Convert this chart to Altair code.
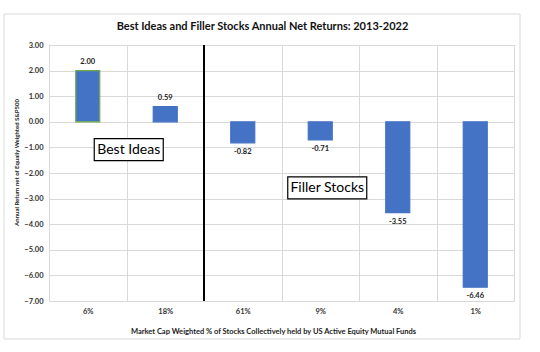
import altair as alt
import pandas as pd

categories = ["6%", "18%", "61%", "9%", "4%", "1%"]
returns = [2.00, 0.59, -0.82, -0.71, -3.55, -6.46]
bar_stroke = ["#70AD47", "#4472C4", "#4472C4", "#4472C4", "#4472C4", "#4472C4"]

box_labels = ["Best Ideas", "Filler Stocks"]
box_cats = ["6%", "9%"]
box_vals = [-1.09, -2.58]

divider_cat = ["61%"]
y_ticks = [3, 2, 1, 0, -1, -2, -3, -4, -5, -6, -7]

FONT = "Lato"
W, H = 465, 256

df = pd.DataFrame({"cat": categories, "ret": returns, "stroke": bar_stroke})
df["lab"] = [f"{v:.2f}" for v in returns]

xscale = alt.Scale(domain=categories, paddingInner=0, paddingOuter=0)
yscale = alt.Scale(domain=[-7, 3], nice=False)

xaxis = alt.Axis(labelAngle=0, tickBand="extent", grid=True, ticks=False, domain=False,
                 gridColor="#d9d9d9", labelPadding=6, labelFontSize=7.5, labelFontWeight="bold",
                 labelColor="#333333", labelFont=FONT, titleFont=FONT, titleFontSize=7.5,
                 titleFontWeight="bold", titleColor="#222222", titlePadding=13, titleX=224)
yaxis = alt.Axis(values=y_ticks, format=".2f", grid=True, ticks=False, domain=False,
                 labelOverlap=False, gridColor="#d9d9d9", labelPadding=6, labelFontSize=7.5,
                 labelFontWeight="bold", labelColor="#333333", labelFont=FONT,
                 titleFont=FONT, titleFontSize=6, titleFontWeight="bold", titleColor="#222222",
                 titleX=-33, titleY=117, titleAlign="center", titleBaseline="middle",
                 titleAngle=270)

XT = "Market Cap Weighted % of Stocks Collectively held by US Active Equity Mutual Funds"
YT = "Annual Return net of Equally Weighted S&P500"
xenc = alt.X("cat:N", scale=xscale, sort=categories, title=XT, axis=xaxis)
yenc = alt.Y("ret:Q", scale=yscale, title=YT, axis=yaxis)

base = alt.Chart(df)

bars = base.mark_bar(size=24, color="#4472C4", strokeWidth=1.2).encode(
    x=xenc, y=yenc, y2=alt.datum(0),
    stroke=alt.Stroke("stroke:N", scale=None),
)

pos_lab = base.transform_filter("datum.ret >= 0").mark_text(
    baseline="bottom", dy=-5, fontSize=7.5, fontWeight="bold", font=FONT, color="#222222"
).encode(x=xenc, y=yenc, text="lab:N")

neg_lab = base.transform_filter("datum.ret < 0").mark_text(
    baseline="top", dy=5, fontSize=7.5, fontWeight="bold", font=FONT, color="#222222"
).encode(x=xenc, y=yenc, text="lab:N")

rule = alt.Chart(pd.DataFrame({"cat": divider_cat, "ret": [3], "ret2": [-7]})).mark_rule(
    color="black", strokeWidth=2
).encode(
    x=alt.X("cat:N", scale=xscale, sort=categories, title=XT, axis=xaxis, bandPosition=0),
    y=yenc, y2="ret2:Q",
)

bdf = pd.DataFrame({"cat": box_cats, "ret": box_vals, "lab": box_labels})
box1 = alt.Chart(bdf.iloc[[0]]).mark_point(
    shape="M-1,-0.319L1,-0.319L1,0.319L-1,0.319Z", size=69 ** 2, filled=True, fill="white",
    stroke="black", strokeWidth=1.2, opacity=1, xOffset=41
).encode(x=xenc, y=yenc)
box2 = alt.Chart(bdf.iloc[[1]]).mark_point(
    shape="M-1,-0.278L1,-0.278L1,0.278L-1,0.278Z", size=79 ** 2, filled=True, fill="white",
    stroke="black", strokeWidth=1.2, opacity=1, xOffset=7
).encode(x=xenc, y=yenc)
txt1 = alt.Chart(bdf.iloc[[0]]).mark_text(fontSize=14, font=FONT, color="black", xOffset=41).encode(
    x=xenc, y=yenc, text="lab:N")
txt2 = alt.Chart(bdf.iloc[[1]]).mark_text(fontSize=14, font=FONT, color="black", xOffset=7).encode(
    x=xenc, y=yenc, text="lab:N")

frame = alt.Chart(pd.DataFrame({"a": [0]})).mark_rect(
    fill=None, stroke="#d9d9d9", strokeWidth=1, clip=False
).encode(x=alt.value(-45), x2=alt.value(471), y=alt.value(-31), y2=alt.value(294))

chart = alt.layer(bars, rule, pos_lab, neg_lab, box1, box2, txt1, txt2, frame).properties(
    width=W, height=H,
    title=alt.TitleParams("Best Ideas and Filler Stocks Annual Net Returns: 2013-2022",
                          font=FONT, fontSize=11, fontWeight="bold", color="#111111",
                          anchor="middle", dx=-19, offset=-18),
    autosize="none",
    padding={"left": 49, "top": 45, "right": 26, "bottom": 51},
).configure_view(stroke=None).configure(background="white")

chart.save("out.html", embed_options={"renderer": "svg", "actions": False})
